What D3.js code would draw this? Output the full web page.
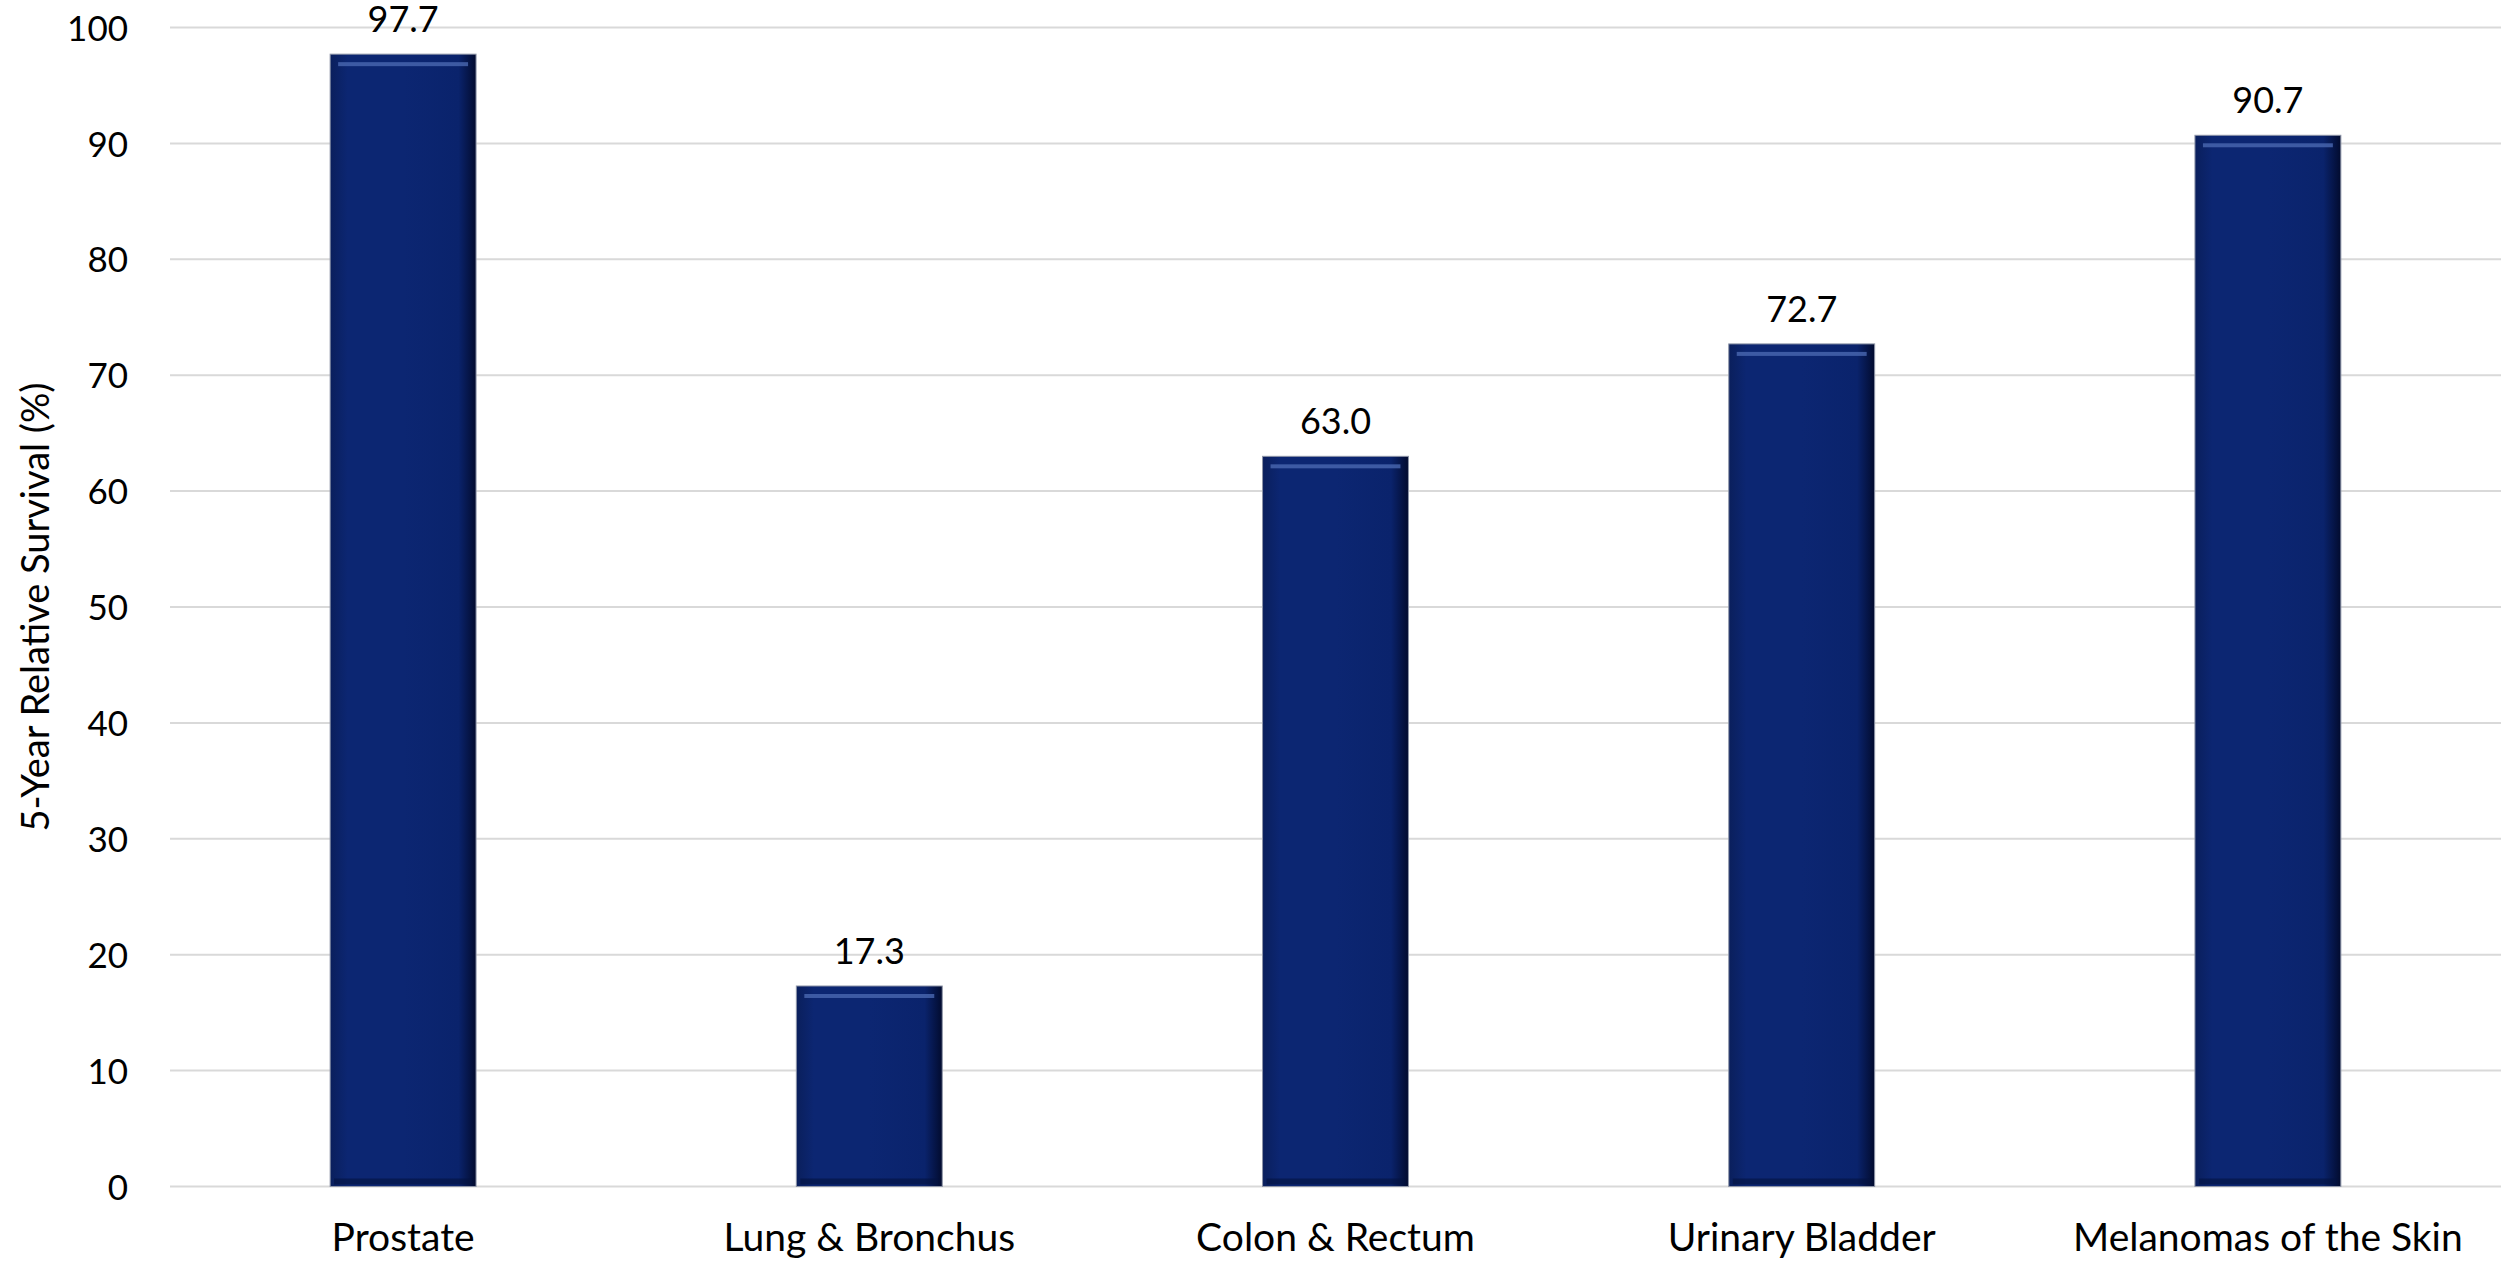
<!DOCTYPE html>
<html><head><meta charset="utf-8">
<script src="https://cdn.jsdelivr.net/npm/d3@7"></script>
<style>html,body{margin:0;padding:0;background:#fff;}svg{display:block;}</style>
</head><body>
<svg id="chart" width="2501" height="1264"></svg>
<script>
const categories = ["Prostate", "Lung & Bronchus", "Colon & Rectum", "Urinary Bladder", "Melanomas of the Skin"];
const survival = [97.7, 17.3, 63.0, 72.7, 90.7];
const yTicks = [0, 10, 20, 30, 40, 50, 60, 70, 80, 90, 100];
const yTitle = "5-Year Relative Survival (%)";

const W = 2501, H = 1264;
const m = {left: 170, right: 0, top: 27.5, bottom: 77.5};
const svg = d3.select("#chart");
const font = "Lato, 'Open Sans', sans-serif";

const x = d3.scaleBand().domain(categories).range([m.left, W - m.right]).paddingInner(0.687).paddingOuter(0.3435);
const y = d3.scaleLinear().domain([0, 100]).range([H - m.bottom, m.top]);

const defs = svg.append("defs");
const g = defs.append("linearGradient").attr("id", "barGrad").attr("x1", "0").attr("x2", "1").attr("y1", "0").attr("y2", "0");
g.append("stop").attr("offset", "0").attr("stop-color", "#0a1f5c");
g.append("stop").attr("offset", "0.12").attr("stop-color", "#0c2672");
g.append("stop").attr("offset", "0.5").attr("stop-color", "#0c2672");
g.append("stop").attr("offset", "0.88").attr("stop-color", "#0a236c");
g.append("stop").attr("offset", "1").attr("stop-color", "#020b2e");

// gridlines
svg.append("g").selectAll("line").data(yTicks).join("line")
  .attr("x1", m.left).attr("x2", W - m.right)
  .attr("y1", d => y(d)).attr("y2", d => y(d))
  .attr("stroke", "#d9d9d9").attr("stroke-width", 2);

// y axis labels
const yAxis = d3.axisLeft(y).tickValues(yTicks).tickSize(0).tickPadding(0);
const ya = svg.append("g").attr("transform", `translate(128,0)`).call(yAxis);
ya.select(".domain").remove();
ya.selectAll("text").attr("font-family", font).attr("font-size", 35).attr("fill", "#000").attr("dy", "0.36em");

// y title
svg.append("text").attr("transform", `translate(49,${(y(0)+y(100))/2}) rotate(-90)`)
  .attr("text-anchor", "middle").attr("font-family", font).attr("font-size", 38).attr("fill", "#000").text(yTitle);

// bars
const data = categories.map((c, i) => ({c, v: survival[i]}));
const bars = svg.append("g").selectAll("g").data(data).join("g");
bars.append("rect")
  .attr("x", d => x(d.c)).attr("width", x.bandwidth())
  .attr("y", d => y(d.v)).attr("height", d => y(0) - y(d.v))
  .attr("fill", "url(#barGrad)").attr("stroke", "#8e95a8").attr("stroke-width", 1);
bars.append("rect")
  .attr("x", d => x(d.c) + 8).attr("width", x.bandwidth() - 16)
  .attr("y", d => y(d.v) + 8).attr("height", 4)
  .attr("fill", "#4a68b0").attr("opacity", 0.8);
bars.append("rect")
  .attr("x", d => x(d.c) + 4).attr("width", x.bandwidth() - 8)
  .attr("y", d => y(0) - 8).attr("height", 6)
  .attr("fill", "#041240").attr("opacity", 0.6);

// value labels
svg.append("g").selectAll("text").data(data).join("text")
  .attr("x", d => x(d.c) + x.bandwidth() / 2).attr("y", d => y(d.v) - 22)
  .attr("text-anchor", "middle").attr("font-family", font).attr("font-size", 36).attr("fill", "#000")
  .text(d => d3.format(".1f")(d.v));

// x axis labels
const xAxis = d3.axisBottom(x).tickSize(0).tickPadding(0);
const xa = svg.append("g").attr("transform", `translate(0,${y(0)})`).call(xAxis);
xa.select(".domain").remove();
xa.selectAll("text").attr("font-family", font).attr("font-size", 39).attr("fill", "#000").attr("dy", 0).attr("y", 64);
</script>
</body></html>
